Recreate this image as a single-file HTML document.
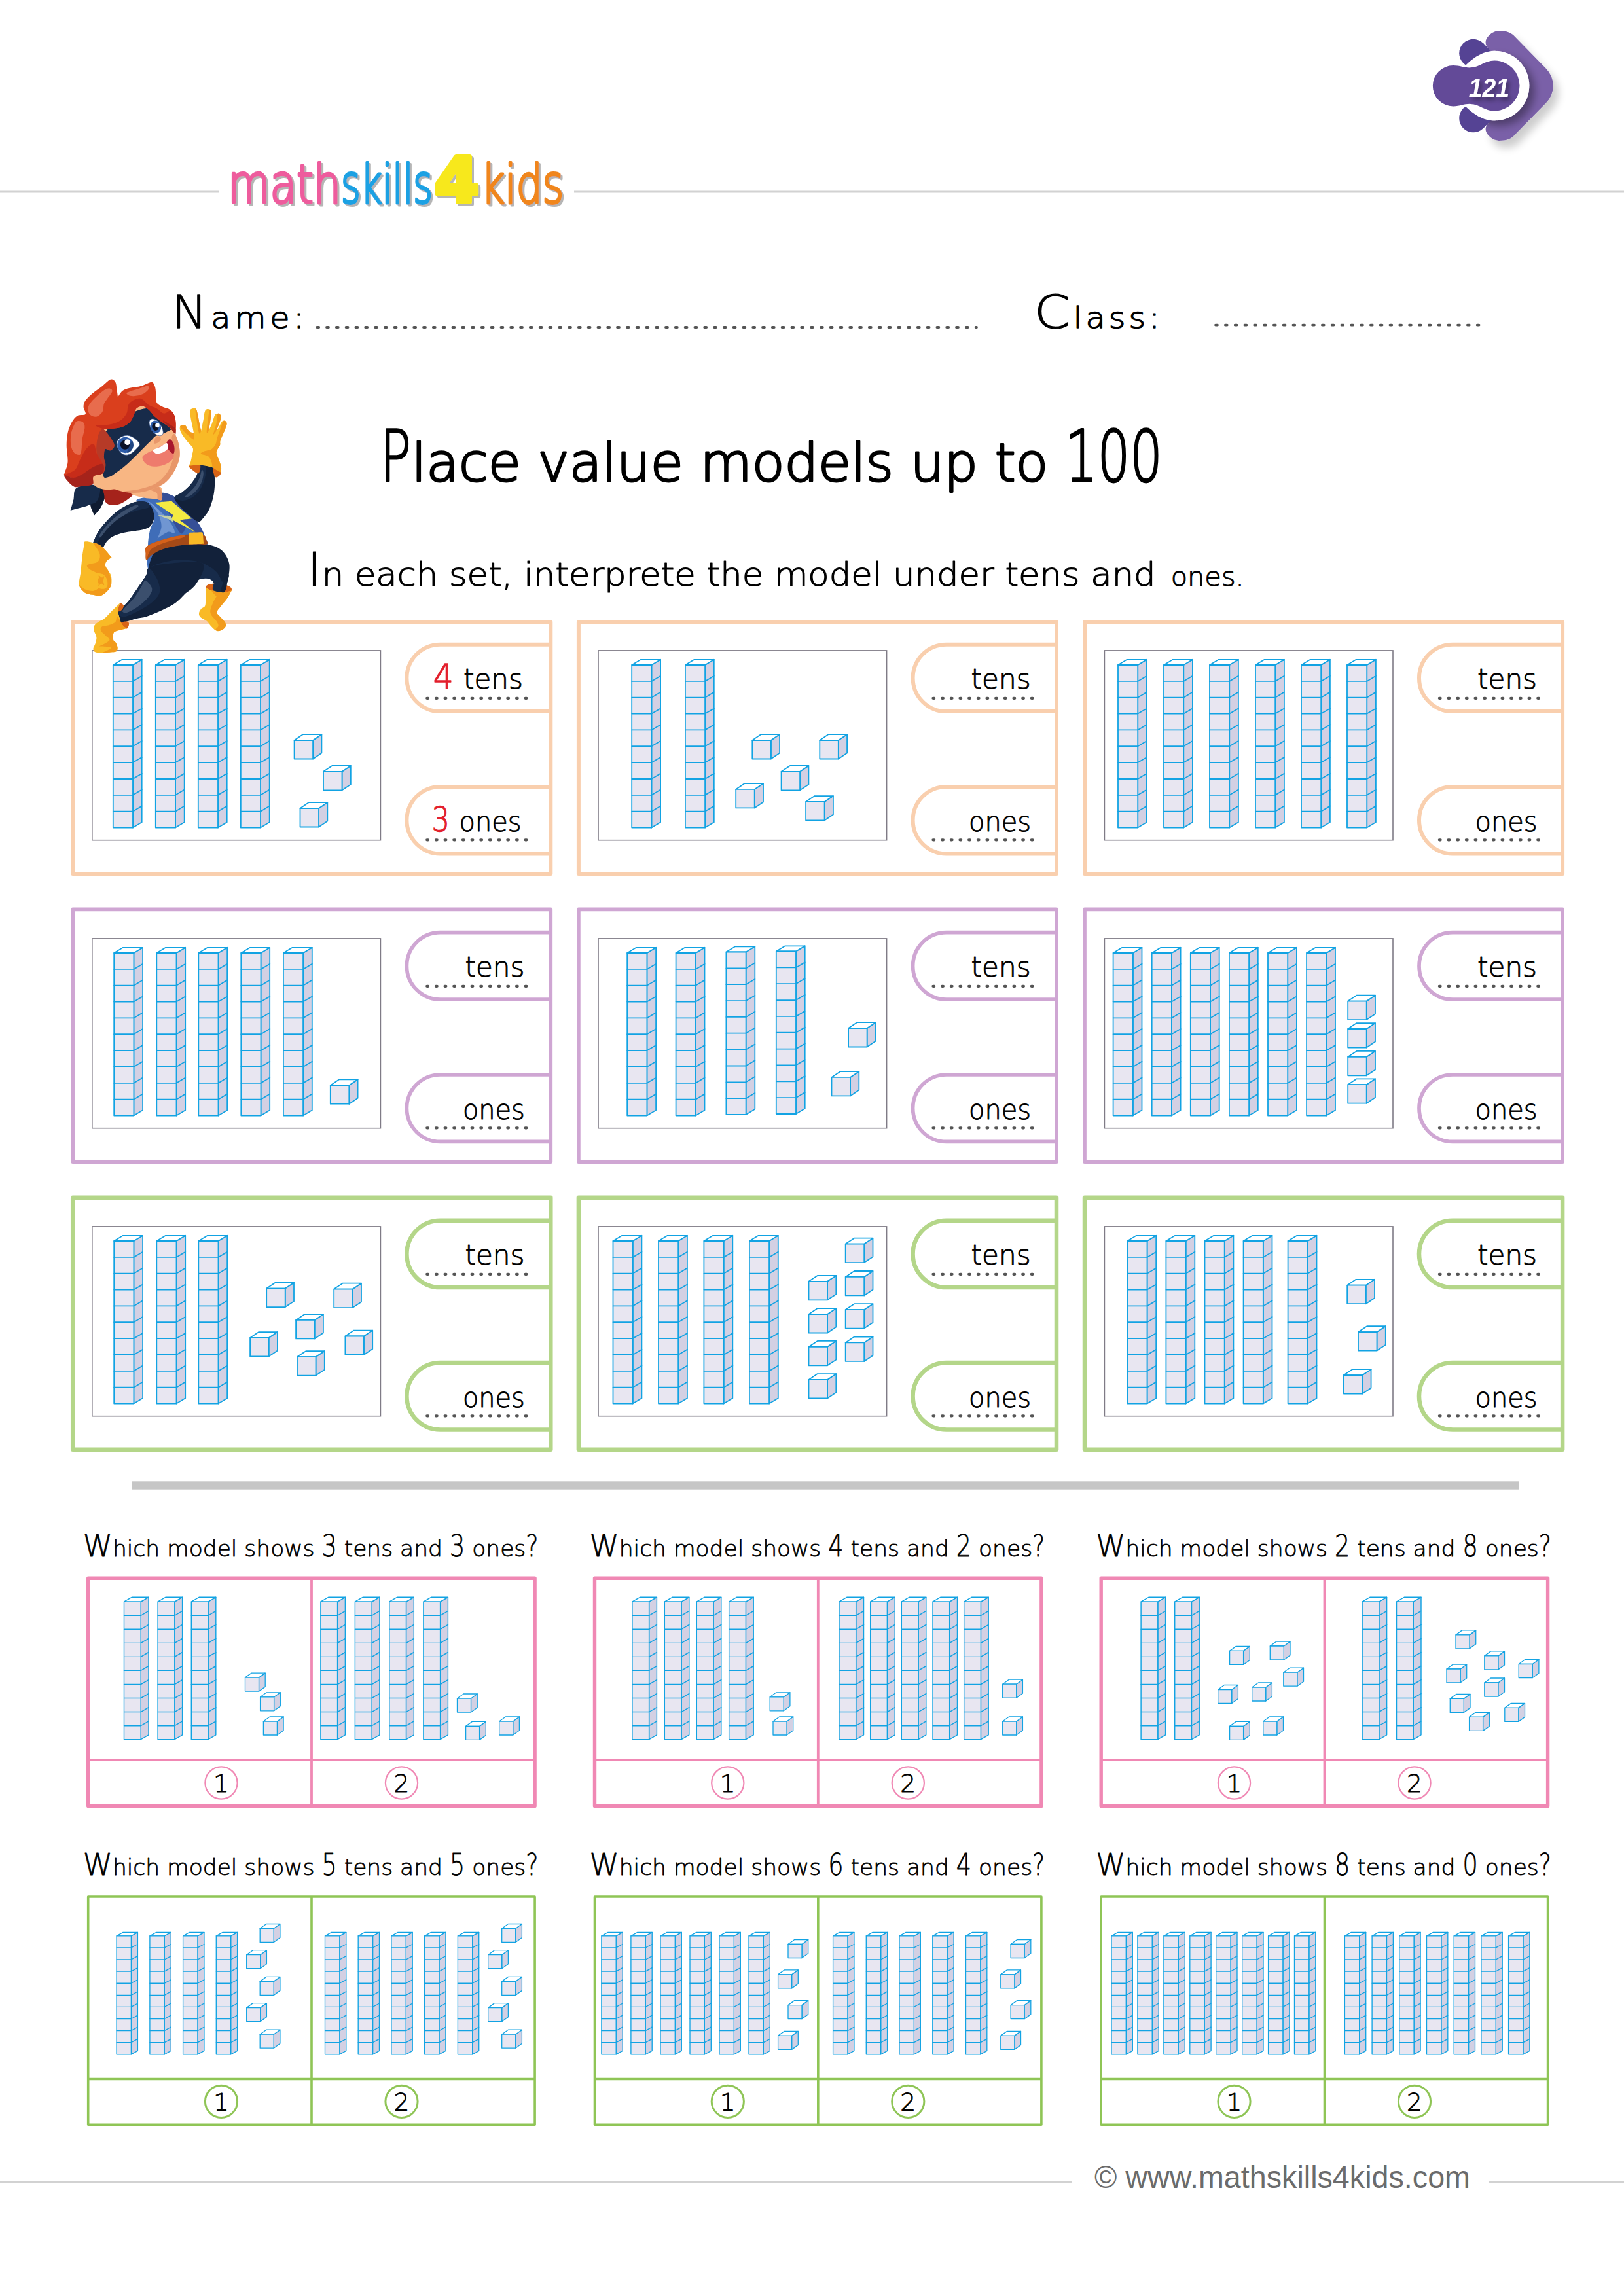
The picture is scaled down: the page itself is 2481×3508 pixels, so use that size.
<!DOCTYPE html>
<html lang="en"><head><meta charset="utf-8"><title>Place value models up to 100</title>
<style>html,body{margin:0;padding:0;background:#fff}svg{display:block}text{font-family:"Liberation Sans", "DejaVu Sans", sans-serif}text.w{font-family:'DejaVu Sans Light', 'DejaVu Sans', 'Liberation Sans', sans-serif;stroke-linejoin:round;stroke-linecap:round}</style></head>
<body>
<svg width="2481" height="3508" viewBox="0 0 2481 3508">
<defs>
<g id="rb" stroke="#12a3e3" stroke-width="1.8" stroke-linejoin="round" stroke-linecap="round"><path d="M30.2 0l13.7 -8.2v248.5l-13.7 8.2z" fill="#d3d0e3"/><path d="M0 0l13.7 -8.2h30.2l-13.7 8.2z" fill="#fff"/><rect x="0" y="0" width="30.2" height="248.5" fill="#e8e6f1"/><path d="M0 24.9h30.2l13.7 -8.2M0 49.7h30.2l13.7 -8.2M0 74.6h30.2l13.7 -8.2M0 99.4h30.2l13.7 -8.2M0 124.2h30.2l13.7 -8.2M0 149.1h30.2l13.7 -8.2M0 174h30.2l13.7 -8.2M0 198.8h30.2l13.7 -8.2M0 223.7h30.2l13.7 -8.2" fill="none"/></g>
<g id="rm" stroke="#12a3e3" stroke-width="1.45" stroke-linejoin="round" stroke-linecap="round"><path d="M25.7 0l11.8 -6.9v210.5l-11.8 6.9z" fill="#d3d0e3"/><path d="M0 0l11.8 -6.9h25.7l-11.8 6.9z" fill="#fff"/><rect x="0" y="0" width="25.7" height="210.5" fill="#e8e6f1"/><path d="M0 21.1h25.7l11.8 -6.9M0 42.1h25.7l11.8 -6.9M0 63.2h25.7l11.8 -6.9M0 84.2h25.7l11.8 -6.9M0 105.2h25.7l11.8 -6.9M0 126.3h25.7l11.8 -6.9M0 147.3h25.7l11.8 -6.9M0 168.4h25.7l11.8 -6.9M0 189.5h25.7l11.8 -6.9" fill="none"/></g>
<g id="rs" stroke="#12a3e3" stroke-width="1.35" stroke-linejoin="round" stroke-linecap="round"><path d="M22.3 0l10 -5.4v181l-10 5.4z" fill="#d3d0e3"/><path d="M0 0l10 -5.4h22.3l-10 5.4z" fill="#fff"/><rect x="0" y="0" width="22.3" height="181" fill="#e8e6f1"/><path d="M0 18.1h22.3l10 -5.4M0 36.2h22.3l10 -5.4M0 54.3h22.3l10 -5.4M0 72.4h22.3l10 -5.4M0 90.5h22.3l10 -5.4M0 108.6h22.3l10 -5.4M0 126.7h22.3l10 -5.4M0 144.8h22.3l10 -5.4M0 162.9h22.3l10 -5.4" fill="none"/></g>
<g id="cb" stroke="#12a3e3" stroke-width="1.8" stroke-linejoin="round" stroke-linecap="round"><path d="M28.5 0l13.3 -8.9v28.5l-13.3 8.9z" fill="#d3d0e3"/><path d="M0 0l13.3 -8.9h28.5l-13.3 8.9z" fill="#fff"/><rect x="0" y="0" width="28.5" height="28.5" fill="#e8e6f1"/></g>
<g id="cs" stroke="#12a3e3" stroke-width="1.3" stroke-linejoin="round" stroke-linecap="round"><path d="M21 0l9.7 -7v21l-9.7 7z" fill="#d3d0e3"/><path d="M0 0l9.7 -7h21l-9.7 7z" fill="#fff"/><rect x="0" y="0" width="21" height="21" fill="#e8e6f1"/></g>
</defs>
<rect x="0" y="291.5" width="334" height="3" fill="#d2d2d2"/>
<rect x="877" y="291.5" width="1604" height="3" fill="#d2d2d2"/>
<filter id="lsh" x="-5%" y="-20%" width="110%" height="150%"><feOffset in="SourceAlpha" dx="2.5" dy="2.5" result="o"/><feFlood flood-color="#b5b5b5"/><feComposite in2="o" operator="in"/><feMerge><feMergeNode/><feMergeNode in="SourceGraphic"/></feMerge></filter>
<text class="w" y="310" font-size="82" filter="url(#lsh)" stroke-width="4"><tspan x="348" y="310" textLength="173" lengthAdjust="spacingAndGlyphs" fill="#ee5b9d" stroke="#ee5b9d">math</tspan><tspan x="521" y="310" textLength="140" lengthAdjust="spacingAndGlyphs" fill="#1da1e3" stroke="#1da1e3">skills</tspan><tspan x="664" y="309" font-size="94" font-weight="bold" textLength="68" lengthAdjust="spacingAndGlyphs" fill="#f7e81e" stroke="#f7e81e" stroke-width="7" style="font-family:'DejaVu Sans','Liberation Sans',sans-serif">4</tspan><tspan x="735" y="310" textLength="126" lengthAdjust="spacingAndGlyphs" fill="#f0861f" stroke="#f0861f">kids</tspan></text>
<g transform="translate(2170 30) scale(0.141625)">
<defs>
<filter id="bs1" x="-30%" y="-30%" width="170%" height="170%"><feGaussianBlur in="SourceAlpha" stdDeviation="45"/><feOffset dx="60" dy="75"/><feComponentTransfer><feFuncA type="linear" slope="0.2"/></feComponentTransfer><feMerge><feMergeNode/><feMergeNode in="SourceGraphic"/></feMerge></filter>
<filter id="bs2" x="-40%" y="-40%" width="180%" height="180%"><feGaussianBlur in="SourceAlpha" stdDeviation="45"/><feOffset dx="55" dy="60"/><feComponentTransfer><feFuncA type="linear" slope="0.36"/></feComponentTransfer><feMerge><feMergeNode/><feMergeNode in="SourceGraphic"/></feMerge></filter>
<filter id="bs3" x="-40%" y="-40%" width="180%" height="180%"><feGaussianBlur in="SourceAlpha" stdDeviation="28"/><feOffset dx="30" dy="35"/><feComponentTransfer><feFuncA type="linear" slope="0.4"/></feComponentTransfer><feMerge><feMergeNode/><feMergeNode in="SourceGraphic"/></feMerge></filter>
<clipPath id="bclip"><path d="M1150 713L740 320C690 270 690 215 744 168C780 130 830 118 873 121C930 124 965 135 1000 165L1355 527A263 263 0 0 1 1355 899L1000 1261C965 1291 930 1302 873 1305C830 1308 780 1296 744 1258C690 1211 690 1156 740 1106Z"/></clipPath>
</defs>
<path d="M1150 713L740 320C690 270 690 215 744 168C780 130 830 118 873 121C930 124 965 135 1000 165L1355 527A263 263 0 0 1 1355 899L1000 1261C965 1291 930 1302 873 1305C830 1308 780 1296 744 1258C690 1211 690 1156 740 1106Z" fill="#7a61a8" filter="url(#bs1)"/>
<path d="M677.5 254.5L810 387L570 362ZM677.5 1172.5L810 1040L570 1065Z" fill="#554394"/><circle cx="570" cy="362" r="152" fill="#554394"/><circle cx="570" cy="1065" r="152" fill="#554394"/>
<g clip-path="url(#bclip)"><circle cx="798" cy="713" r="376" fill="#fff" filter="url(#bs2)"/></g>
<path d="M486 493C560 420 670 337 798 337A376 376 0 0 1 798 1089C670 1089 560 1010 486 935Z" fill="#fff"/>
<path d="M353 495C430 495 470 520 540 518C640 515 690 441 798 441A272 272 0 0 1 798 985C690 985 640 912 540 910C470 908 430 935 353 935A220 220 0 0 1 353 495Z" fill="#634a98"/>
<text x="520" y="835" font-size="292" font-weight="bold" font-style="italic" fill="#fff" textLength="440" lengthAdjust="spacingAndGlyphs" filter="url(#bs3)">121</text>
</g>

<text class="w" x="0" y="0" font-size="44" textLength="181.2" lengthAdjust="spacing" fill="#000" stroke="#000" stroke-width="1.3" transform="translate(262 500.5) scale(1.12 1)"><tspan font-size="70" textLength="48.7" lengthAdjust="spacingAndGlyphs">N</tspan>ame:</text>
<text class="w" x="0" y="0" font-size="44" textLength="171.4" lengthAdjust="spacing" fill="#000" stroke="#000" stroke-width="1.3" transform="translate(1580 501) scale(1.12 1)"><tspan font-size="70">C</tspan>lass:</text>
<path d="M484.2 500H1492" stroke="#555" stroke-width="3.8" stroke-linecap="round" stroke-dasharray="3 11.8" fill="none"/>
<path d="M1857 496.6H2260.5" stroke="#555" stroke-width="3.8" stroke-linecap="round" stroke-dasharray="3 11.8" fill="none"/>
<text class="w" x="581" y="734.6" font-size="80" textLength="1197" lengthAdjust="spacingAndGlyphs" fill="#000" stroke="#000" stroke-width="2.9"><tspan font-size="108" textLength="46.9" lengthAdjust="spacingAndGlyphs">P</tspan>lace value models up to <tspan font-size="108" textLength="148.4" lengthAdjust="spacingAndGlyphs">100</tspan></text>
<text class="w" y="895" font-size="49.6" stroke="#000" stroke-width="1.2"><tspan x="469.6" textLength="1296" lengthAdjust="spacingAndGlyphs"><tspan font-size="70.3">I</tspan>n each set, interprete the model under tens and</tspan> <tspan x="1788.7" font-size="41.6" stroke-width="1" textLength="112" lengthAdjust="spacingAndGlyphs">ones.</tspan></text>
<g fill="none" stroke="#f9cfae" stroke-width="6" stroke-linejoin="round">
<rect x="111.2" y="950.2" width="730.1" height="384.7"/>
<path d="M841.3 984.7H672.6a51.2 51.2 0 0 0 0 102.4H841.3"/>
<path d="M841.3 1202H672.6a51.2 51.2 0 0 0 0 102.4H841.3"/>
</g>
<rect x="140.8" y="993.9" width="440.6" height="289.8" fill="#fff" stroke="#7f7b86" stroke-width="1.6"/>
<path d="M652.2 1066.8H805.2" stroke="#555" stroke-width="4.2" stroke-linecap="round" stroke-dasharray="1.9 11.77" fill="none"/>
<path d="M652.2 1283.3H805.2" stroke="#555" stroke-width="4.2" stroke-linecap="round" stroke-dasharray="1.9 11.77" fill="none"/>
<use href="#rb" x="172.8" y="1016"/>
<use href="#rb" x="237.8" y="1016"/>
<use href="#rb" x="302.8" y="1016"/>
<use href="#rb" x="367.8" y="1016"/>
<use href="#cb" x="449.6" y="1131"/>
<use href="#cb" x="494" y="1178.8"/>
<use href="#cb" x="458.5" y="1235"/>
<text class="w" y="1052.2" font-size="42.5" stroke="#000" stroke-width="0.9"><tspan x="661.7" font-size="51" textLength="31" lengthAdjust="spacingAndGlyphs" fill="#e3202d" stroke="#e3202d" stroke-width="1.3">4</tspan> <tspan x="707.9" textLength="91" lengthAdjust="spacingAndGlyphs">tens</tspan></text>
<text class="w" y="1270.2" font-size="42.5" stroke="#000" stroke-width="0.9"><tspan x="659.7" font-size="51" textLength="27" lengthAdjust="spacingAndGlyphs" fill="#e3202d" stroke="#e3202d" stroke-width="1.3">3</tspan> <tspan x="701.5" textLength="95" lengthAdjust="spacingAndGlyphs">ones</tspan></text>
<g fill="none" stroke="#f9cfae" stroke-width="6" stroke-linejoin="round">
<rect x="883.9" y="950.2" width="730.1" height="384.7"/>
<path d="M1614 984.7H1445.8a51.2 51.2 0 0 0 0 102.4H1614"/>
<path d="M1614 1202H1445.8a51.2 51.2 0 0 0 0 102.4H1614"/>
</g>
<rect x="914" y="993.9" width="440.6" height="289.8" fill="#fff" stroke="#7f7b86" stroke-width="1.6"/>
<path d="M1425.4 1066.8H1578.4" stroke="#555" stroke-width="4.2" stroke-linecap="round" stroke-dasharray="1.9 11.77" fill="none"/>
<path d="M1425.4 1283.3H1578.4" stroke="#555" stroke-width="4.2" stroke-linecap="round" stroke-dasharray="1.9 11.77" fill="none"/>
<use href="#rb" x="965.2" y="1016"/>
<use href="#rb" x="1046.9" y="1016"/>
<use href="#cb" x="1149.3" y="1131"/>
<use href="#cb" x="1252.3" y="1131"/>
<use href="#cb" x="1193.6" y="1178.8"/>
<use href="#cb" x="1124.2" y="1205.9"/>
<use href="#cb" x="1231.1" y="1225"/>
<text class="w" x="1483.6" y="1052.2" font-size="42.5" textLength="91" lengthAdjust="spacingAndGlyphs" fill="#000" stroke="#000" stroke-width="0.9">tens</text>
<text class="w" x="1480.1" y="1270.2" font-size="42.5" textLength="95" lengthAdjust="spacingAndGlyphs" fill="#000" stroke="#000" stroke-width="0.9">ones</text>
<g fill="none" stroke="#f9cfae" stroke-width="6" stroke-linejoin="round">
<rect x="1657" y="950.2" width="730.1" height="384.7"/>
<path d="M2387.1 984.7H2219.2a51.2 51.2 0 0 0 0 102.4H2387.1"/>
<path d="M2387.1 1202H2219.2a51.2 51.2 0 0 0 0 102.4H2387.1"/>
</g>
<rect x="1687.4" y="993.9" width="440.6" height="289.8" fill="#fff" stroke="#7f7b86" stroke-width="1.6"/>
<path d="M2198.8 1066.8H2351.8" stroke="#555" stroke-width="4.2" stroke-linecap="round" stroke-dasharray="1.9 11.77" fill="none"/>
<path d="M2198.8 1283.3H2351.8" stroke="#555" stroke-width="4.2" stroke-linecap="round" stroke-dasharray="1.9 11.77" fill="none"/>
<use href="#rb" x="1708" y="1016"/>
<use href="#rb" x="1778" y="1016"/>
<use href="#rb" x="1848" y="1016"/>
<use href="#rb" x="1918" y="1016"/>
<use href="#rb" x="1988" y="1016"/>
<use href="#rb" x="2058" y="1016"/>
<text class="w" x="2257" y="1052.2" font-size="42.5" textLength="91" lengthAdjust="spacingAndGlyphs" fill="#000" stroke="#000" stroke-width="0.9">tens</text>
<text class="w" x="2253.5" y="1270.2" font-size="42.5" textLength="95" lengthAdjust="spacingAndGlyphs" fill="#000" stroke="#000" stroke-width="0.9">ones</text>
<g fill="none" stroke="#cfa6d3" stroke-width="5.7" stroke-linejoin="round">
<rect x="111.2" y="1389.4" width="730.1" height="385.7"/>
<path d="M841.3 1424.7H672.6a51.2 51.2 0 0 0 0 102.4H841.3"/>
<path d="M841.3 1642H672.6a51.2 51.2 0 0 0 0 102.4H841.3"/>
</g>
<rect x="140.8" y="1433.9" width="440.6" height="289.8" fill="#fff" stroke="#7f7b86" stroke-width="1.6"/>
<path d="M652.2 1506.8H805.2" stroke="#555" stroke-width="4.2" stroke-linecap="round" stroke-dasharray="1.9 11.77" fill="none"/>
<path d="M652.2 1723.3H805.2" stroke="#555" stroke-width="4.2" stroke-linecap="round" stroke-dasharray="1.9 11.77" fill="none"/>
<use href="#rb" x="174.2" y="1456"/>
<use href="#rb" x="239.3" y="1456"/>
<use href="#rb" x="303.3" y="1456"/>
<use href="#rb" x="368.3" y="1456"/>
<use href="#rb" x="432.9" y="1456"/>
<use href="#cb" x="504.8" y="1658.2"/>
<text class="w" x="710.4" y="1492.2" font-size="42.5" textLength="91" lengthAdjust="spacingAndGlyphs" fill="#000" stroke="#000" stroke-width="0.9">tens</text>
<text class="w" x="706.9" y="1710.2" font-size="42.5" textLength="95" lengthAdjust="spacingAndGlyphs" fill="#000" stroke="#000" stroke-width="0.9">ones</text>
<g fill="none" stroke="#cfa6d3" stroke-width="5.7" stroke-linejoin="round">
<rect x="883.9" y="1389.4" width="730.1" height="385.7"/>
<path d="M1614 1424.7H1445.8a51.2 51.2 0 0 0 0 102.4H1614"/>
<path d="M1614 1642H1445.8a51.2 51.2 0 0 0 0 102.4H1614"/>
</g>
<rect x="914" y="1433.9" width="440.6" height="289.8" fill="#fff" stroke="#7f7b86" stroke-width="1.6"/>
<path d="M1425.4 1506.8H1578.4" stroke="#555" stroke-width="4.2" stroke-linecap="round" stroke-dasharray="1.9 11.77" fill="none"/>
<path d="M1425.4 1723.3H1578.4" stroke="#555" stroke-width="4.2" stroke-linecap="round" stroke-dasharray="1.9 11.77" fill="none"/>
<use href="#rb" x="958.2" y="1456"/>
<use href="#rb" x="1032.6" y="1456"/>
<use href="#rb" x="1109.4" y="1454.5"/>
<use href="#rb" x="1185.8" y="1453.5"/>
<use href="#cb" x="1296.1" y="1571"/>
<use href="#cb" x="1270.5" y="1645.9"/>
<text class="w" x="1483.6" y="1492.2" font-size="42.5" textLength="91" lengthAdjust="spacingAndGlyphs" fill="#000" stroke="#000" stroke-width="0.9">tens</text>
<text class="w" x="1480.1" y="1710.2" font-size="42.5" textLength="95" lengthAdjust="spacingAndGlyphs" fill="#000" stroke="#000" stroke-width="0.9">ones</text>
<g fill="none" stroke="#cfa6d3" stroke-width="5.7" stroke-linejoin="round">
<rect x="1657" y="1389.4" width="730.1" height="385.7"/>
<path d="M2387.1 1424.7H2219.2a51.2 51.2 0 0 0 0 102.4H2387.1"/>
<path d="M2387.1 1642H2219.2a51.2 51.2 0 0 0 0 102.4H2387.1"/>
</g>
<rect x="1687.4" y="1433.9" width="440.6" height="289.8" fill="#fff" stroke="#7f7b86" stroke-width="1.6"/>
<path d="M2198.8 1506.8H2351.8" stroke="#555" stroke-width="4.2" stroke-linecap="round" stroke-dasharray="1.9 11.77" fill="none"/>
<path d="M2198.8 1723.3H2351.8" stroke="#555" stroke-width="4.2" stroke-linecap="round" stroke-dasharray="1.9 11.77" fill="none"/>
<use href="#rb" x="1700.6" y="1456"/>
<use href="#rb" x="1759.7" y="1456"/>
<use href="#rb" x="1818.8" y="1456"/>
<use href="#rb" x="1877.9" y="1456"/>
<use href="#rb" x="1937" y="1456"/>
<use href="#rb" x="1996.1" y="1456"/>
<use href="#cb" x="2059.2" y="1529.6"/>
<use href="#cb" x="2059.2" y="1572"/>
<use href="#cb" x="2059.2" y="1614.8"/>
<use href="#cb" x="2059.2" y="1657.2"/>
<text class="w" x="2257" y="1492.2" font-size="42.5" textLength="91" lengthAdjust="spacingAndGlyphs" fill="#000" stroke="#000" stroke-width="0.9">tens</text>
<text class="w" x="2253.5" y="1710.2" font-size="42.5" textLength="95" lengthAdjust="spacingAndGlyphs" fill="#000" stroke="#000" stroke-width="0.9">ones</text>
<g fill="none" stroke="#b4d689" stroke-width="6.5" stroke-linejoin="round">
<rect x="111.2" y="1829.7" width="730.1" height="385"/>
<path d="M841.3 1864.7H672.6a51.2 51.2 0 0 0 0 102.4H841.3"/>
<path d="M841.3 2082H672.6a51.2 51.2 0 0 0 0 102.4H841.3"/>
</g>
<rect x="140.8" y="1873.9" width="440.6" height="289.8" fill="#fff" stroke="#7f7b86" stroke-width="1.6"/>
<path d="M652.2 1946.8H805.2" stroke="#555" stroke-width="4.2" stroke-linecap="round" stroke-dasharray="1.9 11.77" fill="none"/>
<path d="M652.2 2163.3H805.2" stroke="#555" stroke-width="4.2" stroke-linecap="round" stroke-dasharray="1.9 11.77" fill="none"/>
<use href="#rb" x="174.2" y="1896"/>
<use href="#rb" x="239.3" y="1896"/>
<use href="#rb" x="303.3" y="1896"/>
<use href="#cb" x="407.2" y="1968.6"/>
<use href="#cb" x="510.2" y="1969.6"/>
<use href="#cb" x="452.1" y="2016.9"/>
<use href="#cb" x="382.1" y="2044"/>
<use href="#cb" x="527.4" y="2041.5"/>
<use href="#cb" x="454" y="2073.1"/>
<text class="w" x="710.4" y="1932.2" font-size="42.5" textLength="91" lengthAdjust="spacingAndGlyphs" fill="#000" stroke="#000" stroke-width="0.9">tens</text>
<text class="w" x="706.9" y="2150.2" font-size="42.5" textLength="95" lengthAdjust="spacingAndGlyphs" fill="#000" stroke="#000" stroke-width="0.9">ones</text>
<g fill="none" stroke="#b4d689" stroke-width="6.5" stroke-linejoin="round">
<rect x="883.9" y="1829.7" width="730.1" height="385"/>
<path d="M1614 1864.7H1445.8a51.2 51.2 0 0 0 0 102.4H1614"/>
<path d="M1614 2082H1445.8a51.2 51.2 0 0 0 0 102.4H1614"/>
</g>
<rect x="914" y="1873.9" width="440.6" height="289.8" fill="#fff" stroke="#7f7b86" stroke-width="1.6"/>
<path d="M1425.4 1946.8H1578.4" stroke="#555" stroke-width="4.2" stroke-linecap="round" stroke-dasharray="1.9 11.77" fill="none"/>
<path d="M1425.4 2163.3H1578.4" stroke="#555" stroke-width="4.2" stroke-linecap="round" stroke-dasharray="1.9 11.77" fill="none"/>
<use href="#rb" x="936.5" y="1896"/>
<use href="#rb" x="1006" y="1896"/>
<use href="#rb" x="1075.4" y="1896"/>
<use href="#rb" x="1144.9" y="1896"/>
<use href="#cb" x="1291.7" y="1900.6"/>
<use href="#cb" x="1291.7" y="1950.9"/>
<use href="#cb" x="1291.7" y="2001.1"/>
<use href="#cb" x="1291.7" y="2051.4"/>
<use href="#cb" x="1235.5" y="1957.8"/>
<use href="#cb" x="1235.5" y="2008"/>
<use href="#cb" x="1235.5" y="2057.8"/>
<use href="#cb" x="1235.5" y="2108"/>
<text class="w" x="1483.6" y="1932.2" font-size="42.5" textLength="91" lengthAdjust="spacingAndGlyphs" fill="#000" stroke="#000" stroke-width="0.9">tens</text>
<text class="w" x="1480.1" y="2150.2" font-size="42.5" textLength="95" lengthAdjust="spacingAndGlyphs" fill="#000" stroke="#000" stroke-width="0.9">ones</text>
<g fill="none" stroke="#b4d689" stroke-width="6.5" stroke-linejoin="round">
<rect x="1657" y="1829.7" width="730.1" height="385"/>
<path d="M2387.1 1864.7H2219.2a51.2 51.2 0 0 0 0 102.4H2387.1"/>
<path d="M2387.1 2082H2219.2a51.2 51.2 0 0 0 0 102.4H2387.1"/>
</g>
<rect x="1687.4" y="1873.9" width="440.6" height="289.8" fill="#fff" stroke="#7f7b86" stroke-width="1.6"/>
<path d="M2198.8 1946.8H2351.8" stroke="#555" stroke-width="4.2" stroke-linecap="round" stroke-dasharray="1.9 11.77" fill="none"/>
<path d="M2198.8 2163.3H2351.8" stroke="#555" stroke-width="4.2" stroke-linecap="round" stroke-dasharray="1.9 11.77" fill="none"/>
<use href="#rb" x="1722.3" y="1896"/>
<use href="#rb" x="1781.4" y="1896"/>
<use href="#rb" x="1840.5" y="1896"/>
<use href="#rb" x="1899.6" y="1896"/>
<use href="#rb" x="1967.6" y="1896"/>
<use href="#cb" x="2058.2" y="1963.7"/>
<use href="#cb" x="2075" y="2035.1"/>
<use href="#cb" x="2052.8" y="2101.1"/>
<text class="w" x="2257" y="1932.2" font-size="42.5" textLength="91" lengthAdjust="spacingAndGlyphs" fill="#000" stroke="#000" stroke-width="0.9">tens</text>
<text class="w" x="2253.5" y="2150.2" font-size="42.5" textLength="95" lengthAdjust="spacingAndGlyphs" fill="#000" stroke="#000" stroke-width="0.9">ones</text>
<rect x="201" y="2263.3" width="2119" height="12.4" fill="#c6c6c6"/>
<g fill="none" stroke="#f088b4">
<rect x="134.7" y="2411.2" width="682.4" height="348.3" stroke-width="5.4" stroke-linejoin="round"/>
<path d="M476 2411.2V2759.5" stroke-width="3.8"/><path d="M134.7 2689.4H817.1" stroke-width="3"/>
<circle cx="338" cy="2724" r="24.6" stroke-width="2.2" fill="#fff"/>
<circle cx="613.5" cy="2724" r="24.6" stroke-width="2.2" fill="#fff"/>
</g>
<text class="w" x="338" y="2738.2" font-size="37.5" fill="#000" stroke="#000" stroke-width="0.8" text-anchor="middle">1</text>
<text class="w" x="613.5" y="2738.2" font-size="37.5" fill="#000" stroke="#000" stroke-width="0.8" text-anchor="middle">2</text>
<use href="#rm" x="189.5" y="2447.2"/>
<use href="#rm" x="241.1" y="2447.2"/>
<use href="#rm" x="292.3" y="2447.2"/>
<use href="#rm" x="489.9" y="2447.2"/>
<use href="#rm" x="542.4" y="2447.2"/>
<use href="#rm" x="594.8" y="2447.2"/>
<use href="#rm" x="646.9" y="2447.2"/>
<use href="#cs" x="374.5" y="2563.1"/>
<use href="#cs" x="397.6" y="2592.8"/>
<use href="#cs" x="402.4" y="2630"/>
<use href="#cs" x="698.5" y="2595"/>
<use href="#cs" x="711.6" y="2637.4"/>
<use href="#cs" x="762.7" y="2630"/>
<text class="w" x="126.7" y="2377.9" font-size="34.3" textLength="696" lengthAdjust="spacingAndGlyphs" fill="#000" stroke="#000" stroke-width="0.8"><tspan font-size="45.5">W</tspan>hich model shows <tspan font-size="45.5" textLength="23.2" lengthAdjust="spacingAndGlyphs">3</tspan> tens and <tspan font-size="45.5" textLength="23.2" lengthAdjust="spacingAndGlyphs">3</tspan> ones<tspan font-size="45.5" textLength="19.3" lengthAdjust="spacingAndGlyphs">?</tspan></text>
<g fill="none" stroke="#f088b4">
<rect x="908.5" y="2411.2" width="682.4" height="348.3" stroke-width="5.4" stroke-linejoin="round"/>
<path d="M1249.8 2411.2V2759.5" stroke-width="3.8"/><path d="M908.5 2689.4H1590.9" stroke-width="3"/>
<circle cx="1111.8" cy="2724" r="24.6" stroke-width="2.2" fill="#fff"/>
<circle cx="1387.3" cy="2724" r="24.6" stroke-width="2.2" fill="#fff"/>
</g>
<text class="w" x="1111.8" y="2738.2" font-size="37.5" fill="#000" stroke="#000" stroke-width="0.8" text-anchor="middle">1</text>
<text class="w" x="1387.3" y="2738.2" font-size="37.5" fill="#000" stroke="#000" stroke-width="0.8" text-anchor="middle">2</text>
<use href="#rm" x="965.9" y="2447.2"/>
<use href="#rm" x="1015.3" y="2447.2"/>
<use href="#rm" x="1064.3" y="2447.2"/>
<use href="#rm" x="1113.7" y="2447.2"/>
<use href="#rm" x="1282" y="2447.2"/>
<use href="#rm" x="1329.7" y="2447.2"/>
<use href="#rm" x="1377.3" y="2447.2"/>
<use href="#rm" x="1425" y="2447.2"/>
<use href="#rm" x="1472.7" y="2447.2"/>
<use href="#cs" x="1176.2" y="2592.8"/>
<use href="#cs" x="1181" y="2630"/>
<use href="#cs" x="1531.7" y="2573.2"/>
<use href="#cs" x="1531.7" y="2630"/>
<text class="w" x="900.5" y="2377.9" font-size="34.3" textLength="696" lengthAdjust="spacingAndGlyphs" fill="#000" stroke="#000" stroke-width="0.8"><tspan font-size="45.5">W</tspan>hich model shows <tspan font-size="45.5" textLength="23.2" lengthAdjust="spacingAndGlyphs">4</tspan> tens and <tspan font-size="45.5" textLength="23.2" lengthAdjust="spacingAndGlyphs">2</tspan> ones<tspan font-size="45.5" textLength="19.3" lengthAdjust="spacingAndGlyphs">?</tspan></text>
<g fill="none" stroke="#f088b4">
<rect x="1682.2" y="2411.2" width="682.4" height="348.3" stroke-width="5.4" stroke-linejoin="round"/>
<path d="M2023.5 2411.2V2759.5" stroke-width="3.8"/><path d="M1682.2 2689.4H2364.6" stroke-width="3"/>
<circle cx="1885.5" cy="2724" r="24.6" stroke-width="2.2" fill="#fff"/>
<circle cx="2161" cy="2724" r="24.6" stroke-width="2.2" fill="#fff"/>
</g>
<text class="w" x="1885.5" y="2738.2" font-size="37.5" fill="#000" stroke="#000" stroke-width="0.8" text-anchor="middle">1</text>
<text class="w" x="2161" y="2738.2" font-size="37.5" fill="#000" stroke="#000" stroke-width="0.8" text-anchor="middle">2</text>
<use href="#rm" x="1743.1" y="2447.2"/>
<use href="#rm" x="1794.7" y="2447.2"/>
<use href="#rm" x="2081.1" y="2447.2"/>
<use href="#rm" x="2133.5" y="2447.2"/>
<use href="#cs" x="1878.6" y="2522.4"/>
<use href="#cs" x="1940.3" y="2515"/>
<use href="#cs" x="1960.8" y="2555.2"/>
<use href="#cs" x="1860.7" y="2581.5"/>
<use href="#cs" x="1912.7" y="2578"/>
<use href="#cs" x="1878.6" y="2637.4"/>
<use href="#cs" x="1929.8" y="2630"/>
<use href="#cs" x="2224" y="2497.9"/>
<use href="#cs" x="2267.8" y="2529.9"/>
<use href="#cs" x="2320.2" y="2542.5"/>
<use href="#cs" x="2210" y="2550"/>
<use href="#cs" x="2267.8" y="2571"/>
<use href="#cs" x="2215.3" y="2595.4"/>
<use href="#cs" x="2244.6" y="2623.4"/>
<use href="#cs" x="2298.8" y="2609.4"/>
<text class="w" x="1674.2" y="2377.9" font-size="34.3" textLength="696" lengthAdjust="spacingAndGlyphs" fill="#000" stroke="#000" stroke-width="0.8"><tspan font-size="45.5">W</tspan>hich model shows <tspan font-size="45.5" textLength="23.2" lengthAdjust="spacingAndGlyphs">2</tspan> tens and <tspan font-size="45.5" textLength="23.2" lengthAdjust="spacingAndGlyphs">8</tspan> ones<tspan font-size="45.5" textLength="19.3" lengthAdjust="spacingAndGlyphs">?</tspan></text>
<g fill="none" stroke="#8fc556">
<rect x="134.7" y="2898" width="682.4" height="348.3" stroke-width="3.6" stroke-linejoin="round"/>
<path d="M476 2898V3246.3" stroke-width="3.6"/><path d="M134.7 3176.5H817.1" stroke-width="3.6"/>
<circle cx="338" cy="3210.8" r="24.6" stroke-width="3" fill="#fff"/>
<circle cx="613.5" cy="3210.8" r="24.6" stroke-width="3" fill="#fff"/>
</g>
<text class="w" x="338" y="3225" font-size="37.5" fill="#000" stroke="#000" stroke-width="0.8" text-anchor="middle">1</text>
<text class="w" x="613.5" y="3225" font-size="37.5" fill="#000" stroke="#000" stroke-width="0.8" text-anchor="middle">2</text>
<use href="#rs" x="178.1" y="2957.8"/>
<use href="#rs" x="228.9" y="2957.8"/>
<use href="#rs" x="279.6" y="2957.8"/>
<use href="#rs" x="330.3" y="2957.8"/>
<use href="#rs" x="496.5" y="2957.8"/>
<use href="#rs" x="547.2" y="2957.8"/>
<use href="#rs" x="597.9" y="2957.8"/>
<use href="#rs" x="648.6" y="2957.8"/>
<use href="#rs" x="699.4" y="2957.8"/>
<use href="#cs" x="397.2" y="2946.5"/>
<use href="#cs" x="376.7" y="2986.7"/>
<use href="#cs" x="397.2" y="3027.4"/>
<use href="#cs" x="376.7" y="3067.6"/>
<use href="#cs" x="397.2" y="3108.2"/>
<use href="#cs" x="766.7" y="2946.5"/>
<use href="#cs" x="745.7" y="2986.7"/>
<use href="#cs" x="766.7" y="3027.4"/>
<use href="#cs" x="745.7" y="3067.6"/>
<use href="#cs" x="766.7" y="3108.2"/>
<text class="w" x="126.7" y="2864.7" font-size="34.3" textLength="696" lengthAdjust="spacingAndGlyphs" fill="#000" stroke="#000" stroke-width="0.8"><tspan font-size="45.5">W</tspan>hich model shows <tspan font-size="45.5" textLength="23.2" lengthAdjust="spacingAndGlyphs">5</tspan> tens and <tspan font-size="45.5" textLength="23.2" lengthAdjust="spacingAndGlyphs">5</tspan> ones<tspan font-size="45.5" textLength="19.3" lengthAdjust="spacingAndGlyphs">?</tspan></text>
<g fill="none" stroke="#8fc556">
<rect x="908.5" y="2898" width="682.4" height="348.3" stroke-width="3.6" stroke-linejoin="round"/>
<path d="M1249.8 2898V3246.3" stroke-width="3.6"/><path d="M908.5 3176.5H1590.9" stroke-width="3.6"/>
<circle cx="1111.8" cy="3210.8" r="24.6" stroke-width="3" fill="#fff"/>
<circle cx="1387.3" cy="3210.8" r="24.6" stroke-width="3" fill="#fff"/>
</g>
<text class="w" x="1111.8" y="3225" font-size="37.5" fill="#000" stroke="#000" stroke-width="0.8" text-anchor="middle">1</text>
<text class="w" x="1387.3" y="3225" font-size="37.5" fill="#000" stroke="#000" stroke-width="0.8" text-anchor="middle">2</text>
<use href="#rs" x="918.9" y="2957.8"/>
<use href="#rs" x="963.9" y="2957.8"/>
<use href="#rs" x="1009" y="2957.8"/>
<use href="#rs" x="1054" y="2957.8"/>
<use href="#rs" x="1099" y="2957.8"/>
<use href="#rs" x="1144" y="2957.8"/>
<use href="#rs" x="1272.6" y="2957.8"/>
<use href="#rs" x="1323.3" y="2957.8"/>
<use href="#rs" x="1374" y="2957.8"/>
<use href="#rs" x="1424.8" y="2957.8"/>
<use href="#rs" x="1475.5" y="2957.8"/>
<use href="#cs" x="1204" y="2970.5"/>
<use href="#cs" x="1188.6" y="3016.9"/>
<use href="#cs" x="1204" y="3063.6"/>
<use href="#cs" x="1188.6" y="3110.4"/>
<use href="#cs" x="1544.1" y="2970.5"/>
<use href="#cs" x="1528.8" y="3016.9"/>
<use href="#cs" x="1544.1" y="3063.6"/>
<use href="#cs" x="1528.8" y="3110.4"/>
<text class="w" x="900.5" y="2864.7" font-size="34.3" textLength="696" lengthAdjust="spacingAndGlyphs" fill="#000" stroke="#000" stroke-width="0.8"><tspan font-size="45.5">W</tspan>hich model shows <tspan font-size="45.5" textLength="23.2" lengthAdjust="spacingAndGlyphs">6</tspan> tens and <tspan font-size="45.5" textLength="23.2" lengthAdjust="spacingAndGlyphs">4</tspan> ones<tspan font-size="45.5" textLength="19.3" lengthAdjust="spacingAndGlyphs">?</tspan></text>
<g fill="none" stroke="#8fc556">
<rect x="1682.2" y="2898" width="682.4" height="348.3" stroke-width="3.6" stroke-linejoin="round"/>
<path d="M2023.5 2898V3246.3" stroke-width="3.6"/><path d="M1682.2 3176.5H2364.6" stroke-width="3.6"/>
<circle cx="1885.5" cy="3210.8" r="24.6" stroke-width="3" fill="#fff"/>
<circle cx="2161" cy="3210.8" r="24.6" stroke-width="3" fill="#fff"/>
</g>
<text class="w" x="1885.5" y="3225" font-size="37.5" fill="#000" stroke="#000" stroke-width="0.8" text-anchor="middle">1</text>
<text class="w" x="2161" y="3225" font-size="37.5" fill="#000" stroke="#000" stroke-width="0.8" text-anchor="middle">2</text>
<use href="#rs" x="1698" y="2957.8"/>
<use href="#rs" x="1737.9" y="2957.8"/>
<use href="#rs" x="1777.9" y="2957.8"/>
<use href="#rs" x="1817.8" y="2957.8"/>
<use href="#rs" x="1857.7" y="2957.8"/>
<use href="#rs" x="1897.7" y="2957.8"/>
<use href="#rs" x="1937.6" y="2957.8"/>
<use href="#rs" x="1977.5" y="2957.8"/>
<use href="#rs" x="2054.4" y="2957.8"/>
<use href="#rs" x="2096.1" y="2957.8"/>
<use href="#rs" x="2137.8" y="2957.8"/>
<use href="#rs" x="2179.5" y="2957.8"/>
<use href="#rs" x="2221.2" y="2957.8"/>
<use href="#rs" x="2262.9" y="2957.8"/>
<use href="#rs" x="2304.6" y="2957.8"/>
<text class="w" x="1674.2" y="2864.7" font-size="34.3" textLength="696" lengthAdjust="spacingAndGlyphs" fill="#000" stroke="#000" stroke-width="0.8"><tspan font-size="45.5">W</tspan>hich model shows <tspan font-size="45.5" textLength="23.2" lengthAdjust="spacingAndGlyphs">8</tspan> tens and <tspan font-size="45.5" textLength="23.2" lengthAdjust="spacingAndGlyphs">0</tspan> ones<tspan font-size="45.5" textLength="19.3" lengthAdjust="spacingAndGlyphs">?</tspan></text>
<rect x="0" y="3332.8" width="1638" height="3" fill="#d2d2d2"/>
<rect x="2275" y="3332.8" width="206" height="3" fill="#d2d2d2"/>
<text x="1672" y="3342.8" font-size="47.5" textLength="574" lengthAdjust="spacingAndGlyphs" fill="#6b6b6b">© www.mathskills4kids.com</text>
<g id="hero">
<g transform="translate(100 750) scale(0.12315)">
<path d="M440 -60C420 -23 467 63 480 100C493 137 500 147 520 160C540 173 570 179 600 178C630 177 670 165 700 152C730 139 755 120 780 100C805 80 837 60 850 30C863 0 902 -55 860 -80C818 -105 670 -123 600 -120C530 -117 460 -97 440 -60Z" fill="#a5231b"/>
<path d="M130 -30C97 2 111 65 100 110C89 155 62 242 62 242C62 242 208 202 250 192C292 182 294 162 312 180C330 198 358 302 358 302C358 302 420 234 440 200C460 166 475 130 480 100C485 70 479 43 472 20C465 -3 469 -23 440 -40C411 -57 352 -82 300 -80C248 -78 163 -62 130 -30Z" fill="#172b4a"/>
<path d="M312 180C308 207 358 302 358 302C358 302 420 234 440 200C460 166 475 130 480 100C485 70 479 43 472 20C465 -3 449 -47 440 -40C431 -33 430 30 420 60C410 90 398 120 380 140C362 160 316 153 312 180Z" fill="#0f1b31"/>
</g>
<g transform="translate(80 560) scale(0.19595)">
<path d="M655 1045C655 1030 728 1020 760 1010C792 1000 817 983 850 985C883 987 925 998 960 1020C995 1042 1030 1086 1060 1120C1090 1154 1119 1192 1140 1225C1161 1258 1175 1291 1185 1320C1195 1349 1231 1387 1200 1400C1169 1413 1073 1380 1000 1400C927 1420 802 1520 760 1520C718 1520 745 1440 745 1400C745 1360 752 1317 760 1280C768 1243 795 1210 795 1180C795 1150 783 1122 760 1100C737 1078 655 1060 655 1045Z" fill="#3f6db8"/>
<path d="M850 985C867 980 925 998 960 1020C995 1042 1030 1086 1060 1120C1090 1154 1119 1192 1140 1225C1161 1258 1188 1308 1185 1320C1182 1332 1142 1312 1120 1300C1098 1288 1070 1250 1050 1250C1030 1250 1025 1320 1000 1300C975 1280 923 1172 900 1130C877 1088 868 1074 860 1050C852 1026 833 990 850 985Z" fill="#364f97"/>
<path d="M745 1050C747 1048 774 1067 800 1090C826 1113 876 1162 900 1190C924 1218 937 1242 945 1260C953 1278 958 1295 950 1300C942 1305 922 1283 900 1290C878 1297 820 1340 820 1340C820 1340 848 1280 850 1250C852 1220 840 1185 830 1160C820 1135 804 1118 790 1100C776 1082 743 1052 745 1050Z" fill="#7096d2"/>
<path d="M800 1062C800 1062 930 1050 930 1050C930 1050 1088 1185 1088 1185C1088 1185 990 1196 990 1196C990 1196 1115 1290 1115 1290C1115 1290 925 1190 925 1190C925 1190 945 1160 945 1160C945 1160 800 1062 800 1062Z" fill="#f4ea42"/>
<path d="M822 1158C822 1158 925 1165 925 1165C925 1165 945 1215 945 1215C945 1215 905 1190 905 1190C905 1190 822 1158 822 1158Z" fill="#c5d2a4"/>
</g>
<g transform="translate(200 790) scale(0.12315)">
<path d="M250 470C281 442 342 412 400 392C458 372 533 361 600 352C667 343 742 338 800 336C858 334 903 334 950 342C997 350 1043 362 1080 382C1117 402 1147 429 1170 462C1193 495 1212 537 1220 580C1228 623 1220 678 1215 720C1210 762 1199 795 1190 830C1181 865 1160 930 1160 930C1160 930 1020 915 1020 915C1020 915 1033 852 1030 830C1027 808 1017 794 1000 782C983 770 960 760 930 760C900 760 848 770 820 782C792 794 780 807 760 830C740 853 733 882 700 920C667 958 610 1022 560 1060C510 1098 460 1121 400 1150C340 1179 260 1213 200 1232C140 1251 92 1251 38 1265C-16 1279 -122 1315 -122 1315C-122 1315 -162 1175 -162 1175C-162 1175 -74 1095 -32 1045C10 995 51 928 88 875C125 822 167 764 188 725C209 686 208 668 212 640C216 612 209 588 215 560C221 532 219 498 250 470Z" fill="#12213a"/>
<path d="M240 622C265 601 340 577 400 562C460 547 533 534 600 532C667 530 742 536 800 547C858 558 907 578 950 600C993 622 1032 650 1060 680C1088 710 1108 752 1120 780C1132 808 1133 826 1132 850C1131 874 1112 922 1112 922C1112 922 1020 915 1020 915C1020 915 1033 852 1030 830C1027 808 1017 794 1000 782C983 770 960 760 930 760C900 760 858 770 820 782C782 794 743 820 700 832C657 844 607 852 560 852C513 852 462 847 420 832C378 817 338 784 310 760C282 736 262 713 250 690C238 667 215 643 240 622Z" fill="#172b4a"/>
<path d="M214 560C216 573 210 606 224 640C238 674 267 729 300 762C333 795 377 822 420 838C463 854 513 859 560 858C607 857 677 838 700 834" fill="none" stroke="#3f6db8" stroke-width="7" stroke-linecap="round"/>
</g>
<g transform="translate(100 750) scale(0.12315)">
<path d="M1040 950C990 975 1023 1008 1000 1050C977 1092 937 1147 900 1200C863 1253 822 1320 780 1370C738 1420 650 1500 650 1500C650 1500 690 1642 690 1642C690 1642 790 1612 850 1592C910 1572 983 1549 1050 1522C1117 1495 1183 1469 1250 1432C1317 1395 1388 1347 1450 1300C1512 1253 1582 1217 1624 1150C1666 1083 1754 942 1700 900C1646 858 1410 892 1300 900C1190 908 1090 925 1040 950Z" fill="#12213a"/>
<path d="M1040 960C1063 968 1118 1052 1140 1100C1162 1148 1177 1207 1170 1250C1163 1293 1135 1325 1100 1360C1065 1395 1010 1430 960 1460C910 1490 843 1523 800 1540C757 1557 723 1566 700 1560C677 1554 647 1537 660 1505C673 1473 740 1421 780 1370C820 1319 863 1253 900 1200C937 1147 977 1090 1000 1050C1023 1010 1017 952 1040 960Z" fill="#172b4a"/>
<path d="M990 1110C1010 1108 1047 1157 1060 1180C1073 1203 1080 1222 1070 1250C1060 1278 1032 1317 1000 1350C968 1383 920 1423 880 1450C840 1477 788 1503 760 1512C732 1521 719 1509 712 1502C705 1495 697 1499 720 1470C743 1441 813 1377 850 1330C887 1283 917 1227 940 1190C963 1153 970 1112 990 1110Z" fill="#3b4f6d"/>
</g>
<g transform="translate(200 790) scale(0.12315)">
<path d="M930 862C933 853 945 842 960 836C975 830 995 827 1020 826C1045 825 1082 827 1110 830C1138 833 1168 838 1190 846C1212 854 1237 867 1245 880C1253 893 1254 915 1240 925C1226 935 1197 941 1160 940C1123 939 1057 928 1020 920C983 912 955 900 940 890C925 880 927 871 930 862Z" fill="#d86417"/>
<path d="M1020 915C1010 898 1012 849 1030 830C1048 811 1103 800 1130 800C1157 800 1185 808 1190 830C1195 852 1177 915 1160 932C1143 949 1113 933 1090 930C1067 927 1030 932 1020 915Z" fill="#172b4a"/>
<path d="M1112 922C1107 908 1126 870 1132 850C1138 830 1136 822 1150 800C1164 778 1208 715 1215 720C1222 725 1199 795 1190 830C1181 865 1173 917 1160 932C1147 947 1117 936 1112 922Z" fill="#12213a"/>
<path d="M928 870C928 870 973 902 1000 912C1027 922 1063 928 1090 932C1117 936 1134 940 1160 937C1186 934 1247 912 1247 912C1247 912 1221 969 1200 1000C1179 1031 1142 1070 1120 1100C1098 1130 1068 1158 1065 1180C1062 1202 1082 1208 1100 1230C1118 1252 1159 1287 1170 1310C1181 1333 1180 1353 1168 1370C1156 1387 1120 1406 1100 1412C1080 1418 1068 1415 1050 1405C1032 1395 1008 1369 990 1350C972 1331 962 1308 940 1290C918 1272 876 1257 860 1240C844 1223 843 1207 845 1190C847 1173 858 1155 870 1140C882 1125 911 1123 920 1100C929 1077 925 1038 926 1000C927 962 928 870 928 870Z" fill="#f9ba26"/>
<path d="M1000 912C1005 903 1063 928 1090 932C1117 936 1134 940 1160 937C1186 934 1247 912 1247 912C1247 912 1221 969 1200 1000C1179 1031 1142 1070 1120 1100C1098 1130 1068 1158 1065 1180C1062 1202 1082 1208 1100 1230C1118 1252 1159 1287 1170 1310C1181 1333 1180 1353 1168 1370C1156 1387 1120 1407 1100 1412C1080 1417 1052 1408 1050 1398C1048 1388 1083 1368 1085 1350C1087 1332 1074 1312 1060 1290C1046 1268 1012 1242 1000 1220C988 1198 982 1187 985 1160C988 1133 1007 1089 1020 1060C1033 1031 1062 985 1062 985C1062 985 995 921 1000 912Z" fill="#f29b1b"/>
</g>
<g transform="translate(100 880) scale(0.12315)">
<path d="M680 330C680 330 719 351 722 366C725 381 712 407 700 420C688 433 658 447 650 442C642 437 650 409 655 390C660 371 680 330 680 330Z" fill="#d86417"/>
<path d="M690 578C698 567 754 562 770 566C786 570 789 586 788 600C787 614 776 646 765 652C754 658 732 646 720 634C708 622 682 589 690 578Z" fill="#d86417"/>
<path d="M680 330C680 330 660 352 640 372C620 392 587 424 560 450C533 476 507 509 480 530C453 551 421 561 400 576C379 591 362 605 355 622C348 639 350 657 355 680C360 703 382 733 385 760C388 787 377 817 370 840C363 863 346 883 345 900C344 917 348 933 365 942C382 951 418 955 450 956C482 957 530 949 560 946C590 943 616 945 630 936C644 927 647 908 646 890C645 872 634 845 626 830C618 815 602 815 596 800C590 785 588 758 590 740C592 722 592 704 610 692C628 680 675 673 700 666C725 659 762 648 762 648C762 648 737 641 725 630C713 619 690 580 690 580C690 580 650 442 650 442C650 442 655 404 660 385C665 366 680 330 680 330Z" fill="#f9ba26"/>
<path d="M640 500C652 502 690 580 690 580C690 580 713 619 725 630C737 641 762 648 762 648C762 648 725 659 700 666C675 673 628 680 610 692C592 704 592 722 590 740C588 758 590 785 596 800C602 815 618 815 626 830C634 845 645 872 646 890C647 908 644 927 630 936C616 945 590 943 560 946C530 949 450 956 450 956C450 956 575 904 570 890C565 876 420 872 420 872C420 872 532 822 545 800C558 778 518 760 500 740C482 720 448 698 440 680C432 662 435 642 452 630C469 618 512 620 540 610C568 600 603 588 620 570C637 552 628 498 640 500Z" fill="#f29b1b"/>
</g>
<g transform="translate(200 790) scale(0.12315)">
<path d="M205 520C215 489 265 448 270 455C275 462 245 529 235 560C225 591 217 647 212 640C207 633 195 551 205 520Z" fill="#3f6db8"/>
<path d="M190 372C209 349 248 332 300 312C352 292 430 268 500 252C570 236 653 220 720 216C787 212 864 215 900 226C936 237 928 261 935 280C942 299 964 328 942 338C920 348 857 334 800 337C743 340 667 343 600 353C533 363 455 379 400 397C345 415 305 440 270 462C235 484 206 534 192 532C178 530 184 477 184 450C184 423 171 395 190 372Z" fill="#a54a17"/>
<path d="M190 372C209 349 248 332 300 312C352 292 439 267 500 252C561 237 642 222 665 222C688 222 668 243 640 255C612 267 552 276 500 292C448 308 374 331 330 352C286 373 258 390 235 420C212 450 200 527 192 532C184 537 184 477 184 450C184 423 171 395 190 372Z" fill="#d56119"/>
<path d="M716 200C716 200 730 192 730 192C730 192 880 188 880 188C880 188 892 196 892 196C892 196 902 330 902 330C902 330 722 337 722 337C722 337 716 200 716 200Z" fill="#f9ba26"/>
</g>
<g transform="translate(100 750) scale(0.12315)">
<path d="M1000 138C973 132 920 128 880 135C840 142 803 158 760 180C717 202 665 233 620 270C575 307 527 358 490 400C453 442 424 480 400 520C376 560 345 640 345 640C345 640 470 702 470 702C470 702 498 644 520 620C542 596 567 577 600 560C633 543 678 530 720 520C762 510 807 507 850 500C893 493 945 488 980 476C1015 464 1040 454 1060 430C1080 406 1096 363 1100 330C1104 297 1092 257 1082 230C1072 203 1056 185 1042 170C1028 155 1027 144 1000 138Z" fill="#12213a"/>
<path d="M1000 138C973 127 920 128 880 135C840 142 803 158 760 180C717 202 665 233 620 270C575 307 527 358 490 400C453 442 424 480 400 520C376 560 345 640 345 640C345 640 379 663 400 640C421 617 437 543 470 500C503 457 552 415 600 380C648 345 710 313 760 290C810 267 853 255 900 240C947 225 1023 217 1040 200C1057 183 1027 149 1000 138Z" fill="#172b4a"/>
<path d="M905 186C902 181 891 169 860 180C829 191 767 220 720 250C673 280 622 322 580 360C538 398 497 447 470 480C443 513 425 545 420 560C415 575 423 587 440 572C457 557 487 505 520 470C553 435 597 393 640 360C683 327 740 295 780 270C820 245 859 226 880 212C901 198 908 191 905 186Z" fill="#3b4f6d"/>
<path d="M240 630C257 623 295 630 330 640C365 650 410 659 450 690C490 721 572 826 572 826C572 826 523 853 510 870C497 887 492 910 495 930C498 950 518 970 530 990C542 1010 558 1023 565 1050C572 1077 576 1120 570 1150C564 1180 552 1205 530 1230C508 1255 472 1290 440 1300C408 1310 373 1296 340 1290C307 1284 268 1282 240 1262C212 1242 178 1216 170 1172C162 1128 183 1062 190 1000C197 938 203 853 210 800C217 747 225 708 230 680C235 652 223 637 240 630Z" fill="#f9ba26"/>
<path d="M350 648C354 633 413 660 450 690C487 720 572 826 572 826C572 826 523 853 510 870C497 887 490 907 495 930C500 953 528 973 540 1010C552 1047 572 1113 570 1150C568 1187 552 1205 530 1230C508 1255 472 1290 440 1300C408 1310 373 1296 340 1290C307 1284 268 1282 240 1262C212 1242 168 1178 170 1172C172 1166 220 1214 250 1225C280 1236 322 1246 350 1240C378 1234 412 1213 420 1190C428 1167 392 1125 400 1100C408 1075 473 1055 470 1040C467 1025 408 1023 380 1012C352 1001 318 987 300 972C282 957 255 935 272 920C289 905 374 903 400 880C426 857 433 819 425 780C417 741 346 663 350 648Z" fill="#f29b1b"/>
<path d="M400 1040C407 1027 451 1030 470 1040C489 1050 507 1077 515 1100C523 1123 526 1161 520 1180C514 1199 500 1212 480 1215C460 1218 408 1211 400 1195C392 1179 430 1146 430 1120C430 1094 393 1053 400 1040Z" fill="#f9ba26"/>
<path d="M412 1050C417 1044 444 1073 455 1075C466 1077 478 1052 480 1060C482 1068 470 1102 470 1120C470 1138 484 1165 480 1170C476 1175 457 1148 445 1150C433 1152 413 1187 410 1180C407 1173 425 1132 425 1110C425 1088 407 1056 412 1050Z" fill="#f29b1b"/>
</g>
<g transform="translate(200 600) scale(0.12315)">
<path d="M850 900C885 886 999 918 1030 935C1061 952 1034 964 1036 1000C1038 1036 1043 1100 1040 1150C1037 1200 1032 1250 1020 1300C1008 1350 990 1408 970 1450C950 1492 923 1525 900 1550C877 1575 863 1608 830 1600C797 1592 738 1533 700 1500C662 1467 627 1433 600 1400C573 1367 533 1328 540 1300C547 1272 607 1259 640 1232C673 1205 710 1175 740 1140C770 1105 802 1060 820 1020C838 980 815 914 850 900Z" fill="#12213a"/>
<path d="M850 900C868 882 918 890 930 915C942 940 932 1002 920 1050C908 1098 887 1158 860 1200C833 1242 797 1277 760 1300C723 1323 677 1340 640 1340C603 1340 540 1318 540 1300C540 1282 607 1259 640 1232C673 1205 710 1175 740 1140C770 1105 802 1060 820 1020C838 980 832 918 850 900Z" fill="#172b4a"/>
<path d="M880 960C888 950 900 977 900 1000C900 1023 892 1068 880 1100C868 1132 852 1162 830 1190C808 1218 778 1252 750 1270C722 1288 668 1302 660 1300C652 1298 678 1282 700 1260C722 1238 765 1203 790 1170C815 1137 835 1095 850 1060C865 1025 872 970 880 960Z" fill="#3b4f6d"/>
<path d="M716 908C718 896 756 896 780 895C804 894 850 882 860 900C870 918 855 989 840 1000C825 1011 791 980 770 965C749 950 714 920 716 908Z" fill="#d86417"/>
<path d="M1020 930C1033 921 1106 966 1116 985C1126 1004 1095 1033 1082 1042C1069 1051 1050 1059 1040 1040C1030 1021 1007 939 1020 930Z" fill="#d86417"/>
<path d="M610 420C615 408 628 402 640 400C652 398 670 402 680 410C690 418 690 437 700 450C710 463 727 482 740 490C753 498 780 500 780 500C780 500 767 433 760 400C753 367 744 330 740 300C736 270 730 239 733 222C736 205 749 200 760 196C771 192 790 190 800 196C810 202 812 201 820 232C828 263 842 340 850 380C858 420 870 472 870 472C870 472 892 369 900 330C908 291 908 261 915 240C922 219 929 211 940 206C951 201 970 203 980 210C990 217 997 227 998 250C999 273 990 313 985 350C980 387 965 472 965 472C965 472 998 402 1010 370C1022 338 1029 300 1040 282C1051 264 1062 260 1075 260C1088 260 1109 269 1115 282C1121 295 1119 309 1110 340C1101 371 1073 441 1060 470C1047 499 1030 512 1030 512C1030 512 1075 454 1090 430C1105 406 1110 384 1120 370C1130 356 1138 347 1150 348C1162 349 1187 359 1190 376C1193 393 1183 414 1170 450C1157 486 1121 557 1110 590C1099 623 1113 625 1105 650C1097 675 1062 710 1060 740C1058 770 1080 800 1090 830C1100 860 1116 894 1120 920C1124 946 1116 988 1116 988C1116 988 1064 945 1020 930C976 915 901 901 850 898C799 895 716 910 716 910C716 910 733 883 740 860C747 837 755 798 760 770C765 742 777 713 770 690C763 667 740 655 720 630C700 605 668 567 650 540C632 513 619 490 612 470C605 450 605 432 610 420Z" fill="#f9ba26"/>
<path d="M1150 348C1163 336 1187 359 1190 376C1193 393 1183 414 1170 450C1157 486 1121 557 1110 590C1099 623 1113 625 1105 650C1097 675 1062 710 1060 740C1058 770 1080 800 1090 830C1100 860 1116 894 1120 920C1124 946 1116 988 1116 988C1116 988 1039 951 1020 930C1001 909 1010 883 1000 860C990 837 982 807 960 790C938 773 880 770 870 760C860 750 878 740 900 730C922 720 975 715 1000 700C1025 685 1038 663 1050 640C1062 617 1060 592 1070 560C1080 528 1097 485 1110 450C1123 415 1137 360 1150 348Z" fill="#f29b1b"/>
<path d="M610 420C608 408 628 402 640 400C652 398 670 402 680 410C690 418 690 437 700 450C710 463 727 482 740 490C753 498 780 500 780 500C780 500 793 577 780 580C767 583 722 538 700 520C678 502 665 487 650 470C635 453 612 432 610 420Z" fill="#f29b1b"/>
<path d="M800 196C802 185 812 201 820 232C828 263 842 340 850 380C858 420 870 472 870 472C870 472 855 529 845 500C835 471 818 351 810 300C802 249 798 207 800 196Z" fill="#f29b1b"/>
<path d="M980 210C986 202 997 227 998 250C999 273 990 313 985 350C980 387 965 472 965 472C965 472 941 519 940 490C939 461 953 347 960 300C967 253 974 218 980 210Z" fill="#f29b1b"/>
<path d="M1075 260C1084 244 1109 269 1115 282C1121 295 1119 309 1110 340C1101 371 1073 441 1060 470C1047 499 1030 512 1030 512C1030 512 1015 542 1020 520C1025 498 1051 423 1060 380C1069 337 1066 276 1075 260Z" fill="#f29b1b"/>
</g>
<g transform="translate(90 570) scale(0.12315)">
<path d="M900 1480C935 1458 1167 1403 1230 1405C1293 1407 1273 1462 1280 1490C1287 1518 1285 1563 1272 1575C1259 1587 1242 1568 1200 1562C1158 1556 1070 1554 1020 1540C970 1526 865 1502 900 1480Z" fill="#f8b683"/>
<path d="M1130 1440C1132 1426 1205 1397 1230 1405C1255 1413 1273 1462 1280 1490C1287 1518 1281 1563 1272 1575C1263 1587 1234 1574 1225 1560C1216 1546 1231 1510 1215 1490C1199 1470 1128 1454 1130 1440Z" fill="#e8976a"/>
<path d="M700 500C763 447 833 400 900 380C967 360 1035 350 1100 380C1165 410 1233 497 1290 560C1347 623 1407 703 1440 760C1473 817 1481 852 1490 900C1499 948 1504 1000 1496 1050C1488 1100 1464 1153 1440 1200C1416 1247 1385 1295 1350 1330C1315 1365 1288 1387 1230 1412C1172 1437 1072 1472 1000 1482C928 1492 852 1479 800 1472C748 1465 723 1446 690 1442C657 1438 635 1453 600 1450C565 1447 512 1438 480 1422C448 1406 422 1374 410 1352C398 1330 400 1311 410 1292C420 1273 448 1255 470 1240C492 1225 535 1240 540 1200C545 1160 503 1083 500 1000C497 917 487 783 520 700C553 617 637 553 700 500Z" fill="#f8b683"/>
<path d="M1440 760C1455 777 1481 852 1490 900C1499 948 1504 1000 1496 1050C1488 1100 1464 1153 1440 1200C1416 1247 1385 1295 1350 1330C1315 1365 1288 1387 1230 1412C1172 1437 1072 1472 1000 1482C928 1492 800 1479 800 1472C800 1465 933 1457 1000 1440C1067 1423 1145 1402 1200 1370C1255 1338 1296 1295 1330 1250C1364 1205 1389 1150 1405 1100C1421 1050 1426 1000 1425 950C1424 900 1398 832 1400 800C1402 768 1425 743 1440 760Z" fill="#e8976a"/>
<path d="M548 1270C563 1318 595 1295 620 1290C645 1285 670 1262 700 1242C730 1222 767 1197 800 1170C833 1143 867 1112 900 1080C933 1048 967 1013 1000 980C1033 947 1073 907 1100 880C1127 853 1143 836 1160 820C1177 804 1178 793 1200 782C1222 771 1258 765 1290 752C1322 739 1392 702 1392 702C1392 702 1334 630 1300 600C1266 570 1223 547 1190 520C1157 493 1142 447 1100 440C1058 433 1007 453 940 480C873 507 767 547 700 600C633 653 568 733 540 800C512 867 529 922 530 1000C531 1078 533 1222 548 1270Z" fill="#172b4a"/>
<path d="M716 872C718 845 738 816 760 800C782 784 820 771 850 773C880 775 915 792 940 810C965 828 999 860 1002 882C1005 904 979 922 960 942C941 962 915 990 890 1002C865 1014 834 1021 810 1014C786 1007 764 986 748 962C732 938 714 899 716 872Z" fill="#fff" stroke="#2b4f92" stroke-width="5"/>
<circle cx="823" cy="893" r="99" fill="#2d5ca9"/>
<path d="M905 840C916 833 926 880 925 900C924 920 912 945 900 960C888 975 857 993 850 990C843 987 851 965 860 940C869 915 894 847 905 840Z" fill="#214682"/>
<circle cx="820" cy="890" r="58" fill="#0c1226"/>
<circle cx="850" cy="858" r="36" fill="#fff"/>
<path d="M1122 600C1126 583 1142 568 1160 568C1178 568 1210 581 1230 600C1250 619 1270 655 1280 680C1290 705 1297 734 1292 750C1287 766 1269 779 1250 778C1231 777 1200 760 1180 742C1160 724 1143 694 1133 670C1123 646 1118 617 1122 600Z" fill="#fff" stroke="#2b4f92" stroke-width="5"/>
<ellipse cx="1200" cy="668" rx="66" ry="80" fill="#2d5ca9" transform="rotate(-15 1200 668)"/>
<ellipse cx="1196" cy="666" rx="40" ry="48" fill="#0c1226" transform="rotate(-15 1196 666)"/>
<circle cx="1222" cy="648" r="27" fill="#fff"/>
<path d="M1180 872C1175 862 1190 814 1200 800C1210 786 1229 785 1240 788C1251 791 1267 808 1266 820C1265 832 1246 851 1232 860C1218 869 1185 882 1180 872Z" fill="#e8976a"/>
<path d="M1040 1032C1049 1017 1078 1002 1100 990C1122 978 1130 976 1170 958C1210 940 1298 873 1340 880C1382 887 1412 967 1422 1000C1432 1033 1420 1057 1400 1080C1380 1103 1337 1127 1300 1140C1263 1153 1215 1161 1180 1160C1145 1159 1112 1145 1090 1132C1068 1119 1053 1099 1045 1082C1037 1065 1031 1047 1040 1032Z" fill="#ee7b6d"/>
<path d="M1335 866C1339 847 1362 821 1375 820C1388 819 1406 840 1416 860C1426 880 1434 916 1434 940C1434 964 1432 1003 1418 1002C1404 1001 1364 959 1350 936C1336 913 1331 885 1335 866Z" fill="#a8182d"/>
<path d="M1170 955C1181 944 1222 934 1250 920C1278 906 1319 866 1336 868C1353 870 1358 913 1352 932C1346 951 1322 968 1300 980C1278 992 1239 1001 1220 1002C1201 1003 1194 994 1186 986C1178 978 1159 966 1170 955Z" fill="#fff"/>
<path d="M470 650C487 617 532 675 560 700C588 725 618 767 640 800C662 833 690 873 690 900C690 927 659 954 640 962C621 970 588 930 575 945C562 960 559 1018 560 1050C561 1082 582 1108 580 1140C578 1172 563 1247 545 1240C527 1233 484 1157 470 1100C456 1043 460 975 460 900C460 825 453 683 470 650Z" fill="#b63a27"/>
<path d="M640 80C667 72 687 90 700 110C713 130 713 168 718 200C723 232 732 300 732 300C732 300 765 239 790 220C815 201 842 195 880 185C918 175 980 171 1020 160C1060 149 1096 127 1120 120C1144 113 1152 108 1165 118C1178 128 1188 153 1195 180C1202 207 1202 248 1205 280C1208 312 1201 347 1215 370C1229 393 1262 406 1290 420C1318 434 1357 438 1380 455C1403 472 1418 492 1430 520C1442 548 1447 580 1450 620C1453 660 1446 762 1446 762C1446 762 1408 705 1380 680C1352 655 1312 633 1280 610C1248 587 1217 565 1190 540C1163 515 1145 482 1120 460C1095 438 1067 413 1040 410C1013 407 978 422 960 440C942 458 943 492 930 520C917 548 905 585 880 610C855 635 820 657 780 670C740 683 680 687 640 690C600 693 567 672 540 690C513 708 492 748 480 800C468 852 459 945 470 1000C481 1055 532 1090 545 1130C558 1170 564 1216 545 1240C526 1264 471 1263 430 1272C389 1281 342 1287 300 1292C258 1297 218 1304 180 1300C142 1296 88 1282 70 1270C52 1258 68 1258 75 1230C82 1202 107 1155 110 1100C113 1045 95 960 95 900C95 840 99 788 110 740C121 692 140 645 160 610C180 575 202 547 230 530C258 513 318 528 330 510C342 492 305 448 305 420C305 392 311 368 330 340C349 312 385 280 420 250C455 220 503 188 540 160C577 132 613 88 640 80Z" fill="#da3f1d"/>
<path d="M1020 318C1053 328 1088 380 1120 400C1152 420 1185 423 1215 440C1245 457 1272 495 1300 500C1328 505 1358 467 1380 470C1402 473 1418 495 1430 520C1442 545 1447 580 1450 620C1453 660 1446 762 1446 762C1446 762 1408 705 1380 680C1352 655 1312 633 1280 610C1248 587 1217 565 1190 540C1163 515 1145 482 1120 460C1095 438 1067 413 1040 410C1013 407 978 422 960 440C942 458 943 492 930 520C917 548 905 585 880 610C855 635 820 657 780 670C740 683 680 687 640 690C600 693 570 697 540 690C510 683 447 658 460 650C473 642 570 650 620 640C670 630 723 613 760 590C797 567 823 532 840 500C857 468 847 427 860 400C873 373 893 354 920 340C947 326 987 308 1020 318Z" fill="#c72c19"/>
<path d="M430 880C452 890 451 958 470 1000C489 1042 532 1090 545 1130C558 1170 564 1216 545 1240C526 1264 471 1263 430 1272C389 1281 342 1287 300 1292C258 1297 218 1304 180 1300C142 1296 67 1287 70 1270C73 1253 168 1232 200 1200C232 1168 237 1123 260 1080C283 1037 312 973 340 940C368 907 408 870 430 880Z" fill="#c72c19"/>
<path d="M70 1268C83 1263 142 1303 180 1300C218 1297 260 1272 300 1250C340 1228 379 1190 420 1170C461 1150 524 1118 545 1130C566 1142 564 1215 545 1240C526 1265 451 1259 430 1282C409 1305 442 1360 420 1380C398 1400 338 1395 300 1400C262 1405 223 1422 190 1410C157 1398 120 1354 100 1330C80 1306 57 1273 70 1268Z" fill="#a5231b"/>
<path d="M1290 590C1290 583 1354 623 1380 640C1406 657 1435 670 1446 690C1457 710 1446 762 1446 762C1446 762 1406 709 1380 680C1354 651 1290 597 1290 590Z" fill="#a5231b"/>
<path d="M640 195C653 200 667 211 660 232C653 253 617 295 600 320C583 345 570 353 560 380C550 407 555 453 540 480C525 507 495 533 470 540C445 547 408 537 390 520C372 503 358 467 360 440C362 413 377 390 400 360C423 330 470 287 500 260C530 233 557 211 580 200C603 189 627 190 640 195Z" fill="#e86c4d"/>
<path d="M850 240C873 226 958 203 1000 190C1042 177 1081 158 1100 160C1119 162 1122 183 1112 200C1102 217 1070 246 1040 260C1010 274 960 284 930 286C900 288 873 280 860 272C847 264 827 254 850 240Z" fill="#e86c4d"/>
<path d="M230 595C248 590 285 596 300 610C315 624 322 645 320 680C318 715 297 775 290 820C283 865 285 918 280 950C275 982 275 1005 260 1012C245 1019 208 1009 190 990C172 971 157 938 150 900C143 862 143 803 150 760C157 717 177 668 190 640C203 612 212 600 230 595Z" fill="#e86c4d"/>
</g>
</g>

</svg>
</body></html>
